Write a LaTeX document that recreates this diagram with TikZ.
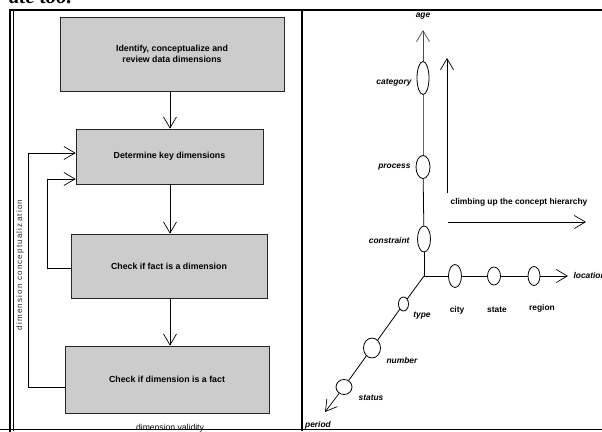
\documentclass[tikz,border=0pt]{standalone}
\usepackage{fontspec}
\setmainfont{Liberation Sans}
\newfontfamily\bodyserif{Liberation Serif}
\usetikzlibrary{arrows.meta,shapes.geometric}

\tikzset{
  stepbox/.style={draw=black!85, line width=0.8pt, fill=gray!40, inner sep=0pt,
    align=center, font=\fontsize{8.8}{11}\selectfont\bfseries},
  arr/.style={line width=0.7pt, -{Straight Barb[length=11pt,width=13pt,line width=0.7pt]}},
  fline/.style={line width=0.7pt},
  ell/.style={ellipse, draw, line width=0.8pt, fill=white, inner sep=0pt},
  axis/.style={line width=0.8pt},
  itl/.style={font=\fontsize{8.4}{10}\selectfont\bfseries\itshape},
  upl/.style={font=\fontsize{8.4}{10}\selectfont\bfseries},
  frameline/.style={line width=2.2pt, line cap=rect},
}

\begin{document}
\begin{tikzpicture}[x=1pt, y=-1pt]
\useasboundingbox (0,0) rectangle (602,431);

% running text of the page, cut by the top of the figure
\node[anchor=base west, inner sep=0pt, font=\bodyserif\fontsize{21}{24}\selectfont\bfseries\itshape]
  (pagetext) at (9,3.5) {ate too.};

% ---------- left panel: dimension modelling steps ----------
\node[stepbox, minimum width=224pt, minimum height=74pt] (b1) at (172,54)
  {Identify, conceptualize and\\review data dimensions};
\node[stepbox, minimum width=187pt, minimum height=55pt] (b2) at (169.5,156.5)
  {Determine key dimensions};
\node[stepbox, minimum width=196pt, minimum height=64pt] (b3) at (169,266)
  {Check if fact is a dimension};
\node[stepbox, minimum width=204pt, minimum height=67pt] (b4) at (167,379.5)
  {Check if dimension is a fact};

\coordinate (spine) at (170,0);
\draw[arr] (b1.south -| spine) -- (b2.north -| spine);
\draw[arr] (b2.south -| spine) -- (b3.north -| spine);
\draw[arr] (b3.south -| spine) -- (b4.north -| spine);

% feedback loops back to the key-dimension step
\draw[arr] ([yshift=-7.5pt]b4.west) -- ++(-36,0) |- ([yshift=3.5pt]b2.west);
\draw[arr] ([yshift=-2pt]b3.west) -- ++(-23,0) |- ([yshift=-22.5pt]b2.west);

\node[rotate=90, font=\fontsize{8}{10}\selectfont\addfontfeature{LetterSpace=15}, text=black!85]
  (concept) at (20,265) {dimension conceptualization};
\node[font=\fontsize{8.6}{10}\selectfont, anchor=base] (validity) at (170,430)
  {dimension validity};

% ---------- right panel: concept hierarchies ----------
\coordinate (O) at (424,276);
\coordinate (agetip) at (423,30);
\coordinate (loctip) at (568,276);
\coordinate (pertip) at (325,412);

\node[ell, minimum width=12pt, minimum height=33pt] (cat) at (423,78) {};
\node[ell, minimum width=14pt, minimum height=23pt] (proc) at (423,167) {};
\node[ell, minimum width=13pt, minimum height=26pt] (cons) at (424,239) {};

\node[ell, minimum width=13pt, minimum height=23pt] (city) at (455,276) {};
\node[ell, minimum width=13pt, minimum height=18pt] (state) at (494,276) {};
\node[ell, minimum width=12pt, minimum height=19pt] (region) at (534,276) {};

\node[ell, minimum width=10pt, minimum height=14pt] (type) at (403.5,304) {};
\node[ell, minimum width=17pt, minimum height=20pt] (num) at (372,348) {};
\node[ell, minimum width=16pt, minimum height=15pt] (stat) at (344,387) {};

% vertical axis
\draw[axis] (O) -- (cons);
\draw[axis] (cons) -- (proc);
\draw[axis, black!60] (proc) -- (cat);
\draw[arr, black!70] (cat) -- (agetip);
% horizontal axis
\draw[axis] (O) -- (city);
\draw[axis] (city) -- (state);
\draw[axis] (state) -- (region);
\draw[arr] (region) -- (loctip);
% diagonal axis
\draw[axis] (O) -- (type);
\draw[axis] (type) -- (num);
\draw[axis] (num) -- (stat);
\draw[arr] (stat) -- (pertip);

\node[itl] (age) at (423,16) {age};
\node[itl, anchor=west] (location) at (570,275) {location};
\node[itl] (period) at (318,425) {period};

\node[itl, anchor=east] (lcat) at (415,83) {category};
\node[itl, anchor=east] (lproc) at (414,167) {process};
\node[itl, anchor=east] (lcons) at (413,240) {constraint};

\node[upl] (lcity) at (457,310) {city};
\node[upl] (lstate) at (497,310) {state};
\node[upl] (lregion) at (542,308) {region};

\node[itl] (ltype) at (422,316) {type};
\node[itl] (lnum) at (402,360) {number};
\node[itl] (lstat) at (371,398) {status};

% hierarchy direction arrows
\coordinate (up0) at (447,193);
\coordinate (up1) at (447,58);
\coordinate (rt0) at (448,222);
\coordinate (rt1) at (586,222);
\draw[arr] (up0) -- (up1);
\draw[arr] (rt0) -- (rt1);
\node[upl] (climb) at (519,202) {climbing up the concept hierarchy};

% ---------- table frame ----------
\draw[frameline] (10,10) -- (602,10);
\draw[frameline] (10,10) -- (10,431);
\draw[line width=1pt] (13.5,10) -- (13.5,431);
\draw[line width=2pt] (302,10) -- (302,431);
\draw[line width=1.6pt] (0,429.5) -- (602,429.5);
\end{tikzpicture}
\end{document}
